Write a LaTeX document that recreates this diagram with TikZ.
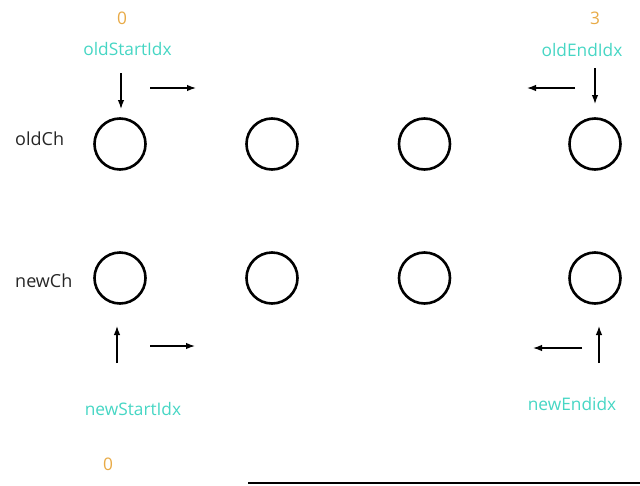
\documentclass[tikz,border=0pt]{standalone}
\usepackage{fontspec}
\setmainfont{Open Sans}
\usetikzlibrary{arrows.meta}
\definecolor{idxcyan}{RGB}{70,214,196}
\definecolor{numorange}{RGB}{232,170,70}
\begin{document}
\begin{tikzpicture}[x=1pt,y=-1pt,
  slot/.style={circle,draw=black,line width=2.6pt,minimum size=51pt,inner sep=0pt},
  idxlabel/.style={text=idxcyan,font=\fontsize{17.3}{20}\selectfont,inner sep=0pt,anchor=base},
  numlabel/.style={text=numorange,font=\fontsize{17.3}{20}\selectfont,inner sep=0pt,anchor=base},
  rowlabel/.style={text=black!85,font=\fontsize{18}{21}\selectfont,inner sep=0pt,anchor=base west},
  ptr/.style={-{Latex[length=9pt,width=6.5pt]},line width=1.3pt,black}]
\useasboundingbox (0,0) rectangle (640,485);
% circles
\foreach \i/\x in {0/120,1/272,2/424.5,3/595}{
  \node[slot] (o\i) at (\x,144) {};
  \node[slot] (n\i) at (\x,278) {};
}
% row labels
\node[rowlabel] (oldch) at (15,145) {oldCh};
\node[rowlabel] (newch) at (15,287) {newCh};
% top labels
\node[numlabel] (n0top) at (122,24) {0};
\node[idxlabel] (osi) at (127.5,55) {oldStartIdx};
\node[numlabel] (n3top) at (595,24) {3};
\node[idxlabel] (oei) at (582,56) {oldEndIdx};
% bottom labels
\node[idxlabel] (nsi) at (133,415) {newStartIdx};
\node[numlabel] (n0bot) at (108,470) {0};
\node[idxlabel] (nei) at (572,410) {newEndidx};
% arrow end coordinates
\coordinate (a1s) at (121,73);  \coordinate (a1e) at (121,109);
\coordinate (a2s) at (150,88);  \coordinate (a2e) at (196,88);
\coordinate (a3s) at (595,68);  \coordinate (a3e) at (595,104);
\coordinate (a4s) at (575,88);  \coordinate (a4e) at (527,88);
\coordinate (a5s) at (117,363); \coordinate (a5e) at (117,326);
\coordinate (a6s) at (150,346); \coordinate (a6e) at (195,346);
\coordinate (a7s) at (599,363); \coordinate (a7e) at (599,326);
\coordinate (a8s) at (582,348); \coordinate (a8e) at (533,348);
\draw[ptr] (a1s) -- (a1e);
\draw[ptr] (a2s) -- (a2e);
\draw[ptr] (a3s) -- (a3e);
\draw[ptr] (a4s) -- (a4e);
\draw[ptr] (a5s) -- (a5e);
\draw[ptr] (a6s) -- (a6e);
\draw[ptr] (a7s) -- (a7e);
\draw[ptr] (a8s) -- (a8e);
% bottom edge line
\draw[line width=2pt] (248,483) -- (640,483);
\end{tikzpicture}
\end{document}
